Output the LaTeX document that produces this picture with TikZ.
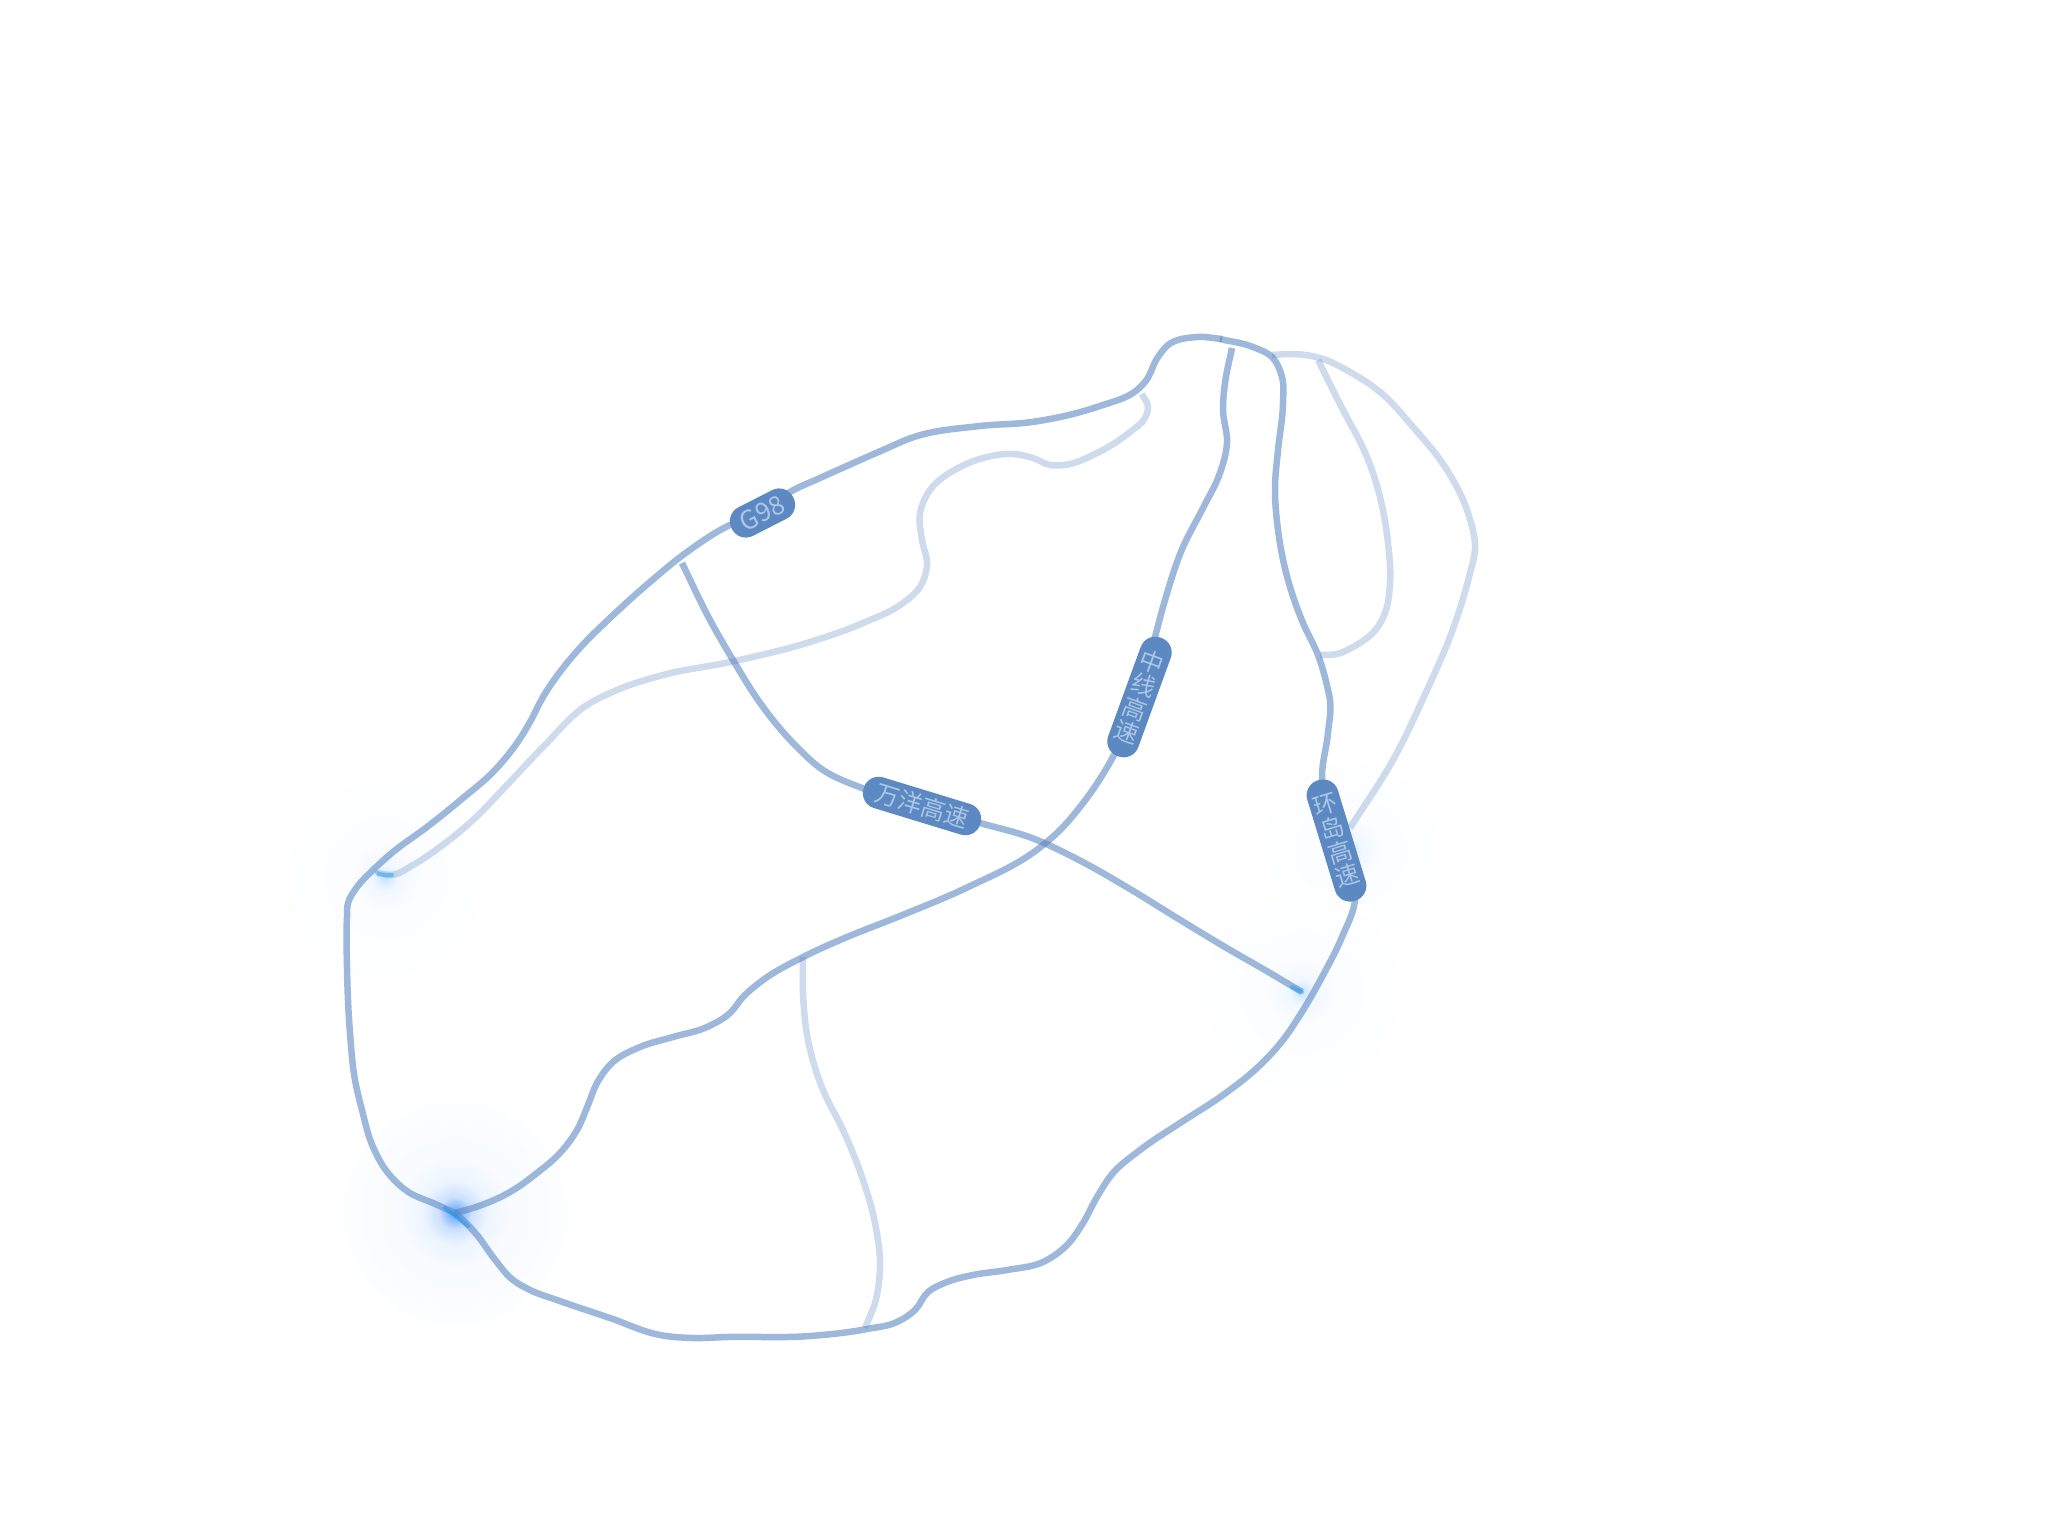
\documentclass[tikz,border=0pt]{standalone}
\usepackage{fontspec}
\newfontfamily\cjk{Noto Sans CJK SC}
\definecolor{roadc}{HTML}{5C89C2}
\definecolor{labtext}{HTML}{ABC6E6}
\pgfdeclareradialshading{glowbig}{\pgfpoint{0bp}{0bp}}{
 rgb(0bp)=(0.38,0.62,0.95);
 rgb(1.5bp)=(0.55,0.74,0.98);
 rgb(3.5bp)=(0.80,0.88,1);
 rgb(7bp)=(0.93,0.96,1);
 rgb(12bp)=(0.972,0.985,1);
 rgb(23bp)=(0.988,0.992,1);
 rgb(25bp)=(1,1,1);
 rgb(50bp)=(1,1,1)}
\pgfdeclareradialshading{glowsoft}{\pgfpoint{0bp}{0bp}}{
 rgb(0bp)=(0.80,0.89,1);
 rgb(3bp)=(0.94,0.97,1);
 rgb(8bp)=(0.985,0.992,1);
 rgb(23bp)=(0.995,0.997,1);
 rgb(25bp)=(1,1,1);
 rgb(50bp)=(1,1,1)}
\newcount\rdn
\newcommand\roadline[2]{%
 \global\rdn=0
 \foreach \px/\py in {#2}{\global\advance\rdn by 1
  \expandafter\xdef\csname rdx\the\rdn\endcsname{\px}%
  \expandafter\xdef\csname rdy\the\rdn\endcsname{\py}}%
 \foreach \i in {1,...,\the\rdn}{%
  \pgfmathtruncatemacro\ip{\i-1}\pgfmathtruncatemacro\in{\i+1}%
  \ifnum\i=1
   \pgfmathsetmacro\tx{\csname rdx\in\endcsname-\csname rdx\i\endcsname}%
   \pgfmathsetmacro\ty{\csname rdy\in\endcsname-\csname rdy\i\endcsname}%
  \else\ifnum\i=\rdn
   \pgfmathsetmacro\tx{\csname rdx\i\endcsname-\csname rdx\ip\endcsname}%
   \pgfmathsetmacro\ty{\csname rdy\i\endcsname-\csname rdy\ip\endcsname}%
  \else
   \pgfmathsetmacro\ax{\csname rdx\i\endcsname-\csname rdx\ip\endcsname}%
   \pgfmathsetmacro\ay{\csname rdy\i\endcsname-\csname rdy\ip\endcsname}%
   \pgfmathsetmacro\bx{\csname rdx\in\endcsname-\csname rdx\i\endcsname}%
   \pgfmathsetmacro\by{\csname rdy\in\endcsname-\csname rdy\i\endcsname}%
   \pgfmathsetmacro\la{veclen(\ax,\ay)}\pgfmathsetmacro\lb{veclen(\bx,\by)}%
   \pgfmathsetmacro\tx{\ax*\lb/\la+\bx*\la/\lb}%
   \pgfmathsetmacro\ty{\ay*\lb/\la+\by*\la/\lb}%
  \fi\fi
  \pgfmathsetmacro\nn{veclen(\tx,\ty)}%
  \pgfmathsetmacro\ux{\tx/\nn}\pgfmathsetmacro\uy{\ty/\nn}%
  \expandafter\xdef\csname rdu\i\endcsname{\ux}%
  \expandafter\xdef\csname rdv\i\endcsname{\uy}}%
 \xdef\rdpath{(\csname rdx1\endcsname,\csname rdy1\endcsname)}%
 \foreach \i in {2,...,\the\rdn}{%
  \pgfmathtruncatemacro\ip{\i-1}%
  \pgfmathsetmacro\ln{veclen(\csname rdx\i\endcsname-\csname rdx\ip\endcsname,\csname rdy\i\endcsname-\csname rdy\ip\endcsname)/3}%
  \pgfmathsetmacro\cax{\csname rdx\ip\endcsname+\csname rdu\ip\endcsname*\ln}%
  \pgfmathsetmacro\cay{\csname rdy\ip\endcsname+\csname rdv\ip\endcsname*\ln}%
  \pgfmathsetmacro\cbx{\csname rdx\i\endcsname-\csname rdu\i\endcsname*\ln}%
  \pgfmathsetmacro\cby{\csname rdy\i\endcsname-\csname rdv\i\endcsname*\ln}%
  \xdef\rdpath{\rdpath .. controls (\cax,\cay) and (\cbx,\cby) .. (\csname rdx\i\endcsname,\csname rdy\i\endcsname)}}%
 \edef\rdtemp{\noexpand\draw[#1] \rdpath;}\rdtemp}
\tikzset{
 x=1pt,y=-1pt,
 road/.style={draw=roadc,line width=6.5pt,draw opacity=.6,line join=round},
 lightroad/.style={draw=roadc,line width=6.5pt,draw opacity=.3,line join=round},
 hot/.style={draw=blue!40!cyan,line width=4pt,draw opacity=.4,line cap=round},
 badge/.style={fill=roadc,rounded corners=15.5pt,text=labtext,inner sep=0pt,align=center,font=\cjk\fontsize{24}{25}\selectfont},
}
\begin{document}
\begin{tikzpicture}
\useasboundingbox (0,0) rectangle (2048,1536);
\fill[white] (0,0) rectangle (2048,1536);
% glows
\path[shading=glowsoft] (385,878) circle[radius=105pt];
\path[shading=glowsoft] (1350,850) circle[radius=95pt];
\path[shading=glowsoft] (1302,992) circle[radius=105pt];
\path[shading=glowbig] (455,1213) circle[radius=116pt];
% light roads
\roadline{lightroad}{377/873,392/875,413/865,440/847,473/820,507/785,543/747,587/705,617/690,663/675,730/662,810/642,863/623,903/603,920/587,927/565,922/540,920/513,930/490,960/467,987/457,1013/454,1033/458,1050/465,1064/465,1097/453,1130/432,1145/418,1148/407,1142/394}
\roadline{lightroad}{1272/355,1293/354,1320/358,1350/372,1380/392,1413/427,1447/470,1468/513,1475/550,1470/573,1450/637,1427/690,1393/760,1350/828}
\roadline{lightroad}{1318/360,1342/408,1367/457,1380/497,1388/543,1390/583,1385/613,1377/628,1353/647,1337/654,1320/655}
\roadline{lightroad}{803/957,803/993,808/1040,823/1090,843/1130,862/1177,875/1223,880/1267,875/1303,865/1328}
% main roads
\roadline{road}{1222/339,1197/337,1168/345,1158/357,1145/382,1137/390,1100/406,1084/411,1032/422,980/426,914/437,883/450,849/465,820/478,790/492,762/513,730/525,687/552,650/582,610/618,578/650,543/697,530/722,517/743,493/772,463/798,427/827,393/852,373/870,357/887,348/903,347/917,347/967,350/1033,355/1080,362/1110,373/1147,388/1173,410/1193,433/1203,455/1213}
\roadline{road}{1220/339,1253/347,1272/357,1282/377,1283/403,1278/450,1275/487,1278/530,1288/580,1303/623,1318/655,1328/690,1330/700,1328/733,1322/777,1336/840,1355/900,1342/937,1322/977,1300/1015,1283/1040,1257/1068,1223/1095,1180/1123,1140/1150,1113/1173,1097/1197,1083/1223,1067/1245,1043/1262,1007/1270,973/1275,947/1282,928/1292,915/1310,897/1322,867/1329,810/1336,727/1337,693/1338,660/1335,610/1318,557/1300,530/1290,513/1280,493/1257,477/1235,463/1220,455/1213}
\roadline{road}{1232/348,1225/383,1223/410,1227/443,1220/473,1203/508,1183/547,1165/600,1155/637,1139/697,1114/755,1080/807,1062/828,1038/849,966/888,900/916,840/940,803/957,763/980,743/997,730/1013,707/1027,673/1037,640/1047,613/1062,597/1083,588/1105,577/1130,560/1153,537/1173,510/1192,473/1208,455/1213}
\roadline{road}{682/563,710/620,733/660,763/707,795/745,823/770,862/788,922/806,980/823,1032/838,1077/859,1130/889,1177/918,1225/947,1270/973,1302/992}
% hot ends
\draw[hot] (445,1208) -- (468,1226);
\draw[hot] (377,873) to[bend right=12] (392,875);
\draw[hot] (1292,987) -- (1302,992);
% labels
\node[badge,rotate=27,minimum width=69pt,minimum height=32pt,font=\cjk\fontsize{26}{26}\selectfont] (g98) at (762.5,513) {G98};
\node[badge,rotate=-17,minimum width=122pt,minimum height=32pt] (wy) at (922,806) {万洋高速};
\node[badge,rotate=-20,minimum width=32pt,minimum height=126pt] (zx) at (1139.5,697) {中\\线\\高\\速};
\node[badge,rotate=17,minimum width=32pt,minimum height=126pt] (hd) at (1336.5,840.5) {环\\岛\\高\\速};
\end{tikzpicture}
\end{document}
